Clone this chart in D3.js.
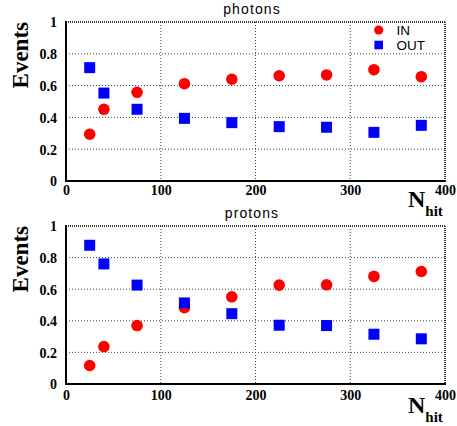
<!DOCTYPE html>
<html><head><meta charset="utf-8">
<script src="https://cdn.jsdelivr.net/npm/d3@7"></script>
<style>
html,body{margin:0;padding:0;background:#fff;}
svg{display:block;}
</style></head>
<body>
<svg id="c" width="457" height="426"></svg>
<script>
const nhit = [25, 40, 75, 125, 175, 225, 275, 325, 375];
const photonsIn  = [0.294, 0.451, 0.558, 0.612, 0.640, 0.662, 0.667, 0.700, 0.656];
const photonsOut = [0.713, 0.553, 0.451, 0.394, 0.367, 0.342, 0.338, 0.306, 0.350];
const protonsIn  = [0.117, 0.237, 0.370, 0.483, 0.552, 0.626, 0.628, 0.681, 0.712];
const protonsOut = [0.878, 0.760, 0.626, 0.513, 0.445, 0.372, 0.370, 0.315, 0.286];
const xTicks = [0, 100, 200, 300, 400];
const yTicks = [0, 0.2, 0.4, 0.6, 0.8, 1];
const yTickLabels = ["0", "0.2", "0.4", "0.6", "0.8", "1"];
const panelTitles = ["photons", "protons"];
const legendLabels = ["IN", "OUT"];

const svg = d3.select("#c");
const serif = "'Liberation Serif','Times New Roman',serif";
const sans = "'Liberation Sans',Arial,sans-serif";

const panels = [
  {title: panelTitles[0], inV: photonsIn, outV: photonsOut, top: 22, bottom: 181, legend: true, xlabBase: 195, nBase: 207, titleBase: 14},
  {title: panelTitles[1], inV: protonsIn, outV: protonsOut, top: 226, bottom: 384, legend: false, xlabBase: 399.5, nBase: 413, titleBase: 218}
];
const left = 66, right = 445;

panels.forEach(p => {
  const x = d3.scaleLinear().domain([0, 400]).range([left, right]);
  const y = d3.scaleLinear().domain([0, 1]).range([p.bottom, p.top]);
  const g = svg.append("g");

  // grid
  g.selectAll(".gx").data(xTicks.filter(t => t > 0 && t < 400)).join("line")
    .attr("x1", d => x(d)).attr("x2", d => x(d)).attr("y1", p.top).attr("y2", p.bottom)
    .attr("stroke", "#444").attr("stroke-width", 1).attr("stroke-dasharray", "1,2");
  g.selectAll(".gy").data(yTicks.filter(t => t > 0 && t < 1)).join("line")
    .attr("x1", left).attr("x2", right).attr("y1", d => y(d)).attr("y2", d => y(d))
    .attr("stroke", "#444").attr("stroke-width", 1).attr("stroke-dasharray", "1,2");

  // frame: top & right dotted dark, left & bottom solid
  g.append("line").attr("x1", left).attr("x2", right).attr("y1", p.top).attr("y2", p.top)
    .attr("stroke", "#333").attr("stroke-width", 2).attr("stroke-dasharray", "1,1");
  g.append("line").attr("x1", right).attr("x2", right).attr("y1", p.top).attr("y2", p.bottom)
    .attr("stroke", "#333").attr("stroke-width", 2).attr("stroke-dasharray", "1,1");
  g.append("line").attr("x1", left).attr("x2", left).attr("y1", p.top - 1).attr("y2", p.bottom + 1)
    .attr("stroke", "#000").attr("stroke-width", 2);
  g.append("line").attr("x1", left - 1).attr("x2", right + 1).attr("y1", p.bottom).attr("y2", p.bottom)
    .attr("stroke", "#000").attr("stroke-width", 2);

  // axes labels via d3 axes (no tick lines)
  const xa = d3.axisBottom(x).tickValues(xTicks).tickSize(0).tickPadding(0).tickFormat(d3.format("d"));
  const xg = g.append("g").attr("transform", `translate(0,${p.xlabBase})`).call(xa);
  xg.select(".domain").remove();
  xg.selectAll("text").attr("dy", 0).attr("y", 0)
    .attr("font-family", serif).attr("font-weight", "bold").attr("font-size", 14).attr("fill", "#000");

  const ya = d3.axisLeft(y).tickValues(yTicks).tickSize(0).tickPadding(0)
    .tickFormat((d, i) => yTickLabels[i]);
  const yg = g.append("g").attr("transform", `translate(${left - 9},0)`).call(ya);
  yg.select(".domain").remove();
  yg.selectAll("text").attr("x", 0).attr("dy", "0.35em")
    .attr("font-family", serif).attr("font-weight", "bold").attr("font-size", 14).attr("fill", "#000");

  // y title
  g.append("text").attr("transform", `translate(28,${p.top}) rotate(-90)`)
    .attr("text-anchor", "end").attr("font-family", serif).attr("font-weight", "bold")
    .attr("font-size", 23).text("Events");

  // N_hit
  const nt = g.append("text").attr("x", 408).attr("y", p.nBase)
    .attr("font-family", serif).attr("font-weight", "bold").attr("font-size", 24);
  nt.append("tspan").text("N");
  nt.append("tspan").attr("font-size", 15).attr("dy", 9).text("hit");

  // panel title
  g.append("text").attr("x", 252).attr("y", p.titleBase).attr("text-anchor", "middle")
    .attr("font-family", sans).attr("font-size", 14).attr("letter-spacing", 1.1).text(p.title);

  // markers
  g.selectAll(".in").data(nhit).join("circle")
    .attr("cx", d => x(d)).attr("cy", (d, i) => y(p.inV[i])).attr("r", 5.8).attr("fill", "#ff0000");
  const s = 11;
  g.selectAll(".out").data(nhit).join("rect")
    .attr("x", d => x(d) - s / 2).attr("y", (d, i) => y(p.outV[i]) - s / 2)
    .attr("width", s).attr("height", s).attr("fill", "#0000ff");

  if (p.legend) {
    g.append("circle").attr("cx", 378.7).attr("cy", 30).attr("r", 4.6).attr("fill", "#ff0000");
    g.append("rect").attr("x", 378.7 - 4.3).attr("y", 45 - 4.3).attr("width", 8.6).attr("height", 8.6).attr("fill", "#0000ff");
    g.append("text").attr("x", 396.5).attr("y", 34.5).attr("font-family", sans).attr("font-size", 13.5).text(legendLabels[0]);
    g.append("text").attr("x", 396.5).attr("y", 50).attr("font-family", sans).attr("font-size", 13.5).text(legendLabels[1]);
  }
});
</script>
</body></html>
